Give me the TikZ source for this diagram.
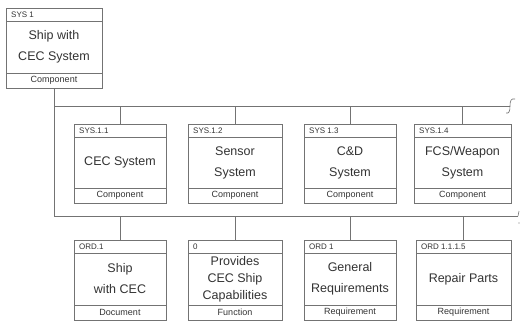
\documentclass[tikz,border=0pt]{standalone}
\usepackage{fontspec}
\setmainfont{Liberation Sans}
\usetikzlibrary{fit}
\tikzset{
  frame/.style={draw=black!55, line width=0.6pt},
  boxframe/.style={frame, rectangle, inner sep=0pt, fill=white},
  hdrtext/.style={font=\fontsize{8}{8}\selectfont, text=black!80, inner sep=0pt, anchor=west},
  bodytext/.style={font=\fontsize{12.5}{21}\selectfont, text=black!80, inner sep=0pt, align=center},
  tightbody/.style={font=\fontsize{12.5}{17}\selectfont},
  foottext/.style={font=\fontsize{9}{9}\selectfont, text=black!80, inner sep=0pt},
  conn/.style={draw=black!55, line width=0.6pt},
}
\newcommand\mkbox[7][]{%
  \node[boxframe, fit={(#3,\ytop) (#4,\ybot)}] (#2) {};
  \draw[frame] (#3,\yhdr) -- (#4,\yhdr);
  \draw[frame] (#3,\yftr) -- (#4,\yftr);
  \node[hdrtext] (#2-h) at ({#3+5},{(\ytop+\yhdr)/2}) {#5};
  \node[bodytext,#1] (#2-b) at ({(#3+#4)/2},{(\yhdr+\yftr)/2}) {#6};
  \node[foottext] (#2-f) at ({(#3+#4)/2},{(\yftr+\ybot)/2}) {#7};
}
\begin{document}
\begin{tikzpicture}[x=1pt,y=-1pt]
\useasboundingbox (0,0) rectangle (521,321);
\coordinate (b1) at (54,106);
\coordinate (b2) at (54,216);
\coordinate (e1) at (510,106);
\coordinate (e2) at (518,216);
% top box
\def\ytop{8}\def\yhdr{21}\def\yftr{73}\def\ybot{88}
\mkbox{sys1}{6}{102}{SYS 1}{Ship with\\CEC System}{Component}
% upper row
\def\ytop{124}\def\yhdr{137}\def\yftr{188}\def\ybot{203}
\mkbox{s11}{74}{166}{SYS.1.1}{CEC System}{Component}
\mkbox{s12}{188}{282}{SYS.1.2}{Sensor\\System}{Component}
\mkbox{s13}{304}{396}{SYS 1.3}{C\&D\\System}{Component}
\mkbox{s14}{414}{511}{SYS.1.4}{FCS/Weapon\\System}{Component}
% lower row
\def\ytop{240}\def\yhdr{253}\def\yftr{305}\def\ybot{320}
\mkbox{o1}{74}{166}{ORD.1}{Ship\\with CEC}{Document}
\mkbox[tightbody]{f0}{188}{282}{0}{Provides\\CEC Ship\\Capabilities}{Function}
\mkbox{r1}{304}{396}{ORD 1}{General\\Requirements}{Requirement}
\mkbox{r2}{416}{511}{ORD 1.1.1.5}{Repair Parts}{Requirement}
% trunk and buses
\draw[conn] (sys1.south) -- (b2);
\draw[conn] (b1) -- (e1);
\draw[conn] (b2) -- (e2);
\draw[conn] (e1) .. controls (510,101) and (511,98) .. (515,99);
\draw[conn] (e1) .. controls (510,111) and (509,114) .. (506,113);
\draw[conn] (e2) -- (519,211);
\fill[black!55] (519,223) circle (0.7);
% branches
\foreach \n in {s11,s12,s13,s14} \draw[conn] (\n.north) -- (\n.north |- b1);
\foreach \n in {o1,f0,r1,r2} \draw[conn] (\n.north) -- (\n.north |- b2);
\end{tikzpicture}
\end{document}
